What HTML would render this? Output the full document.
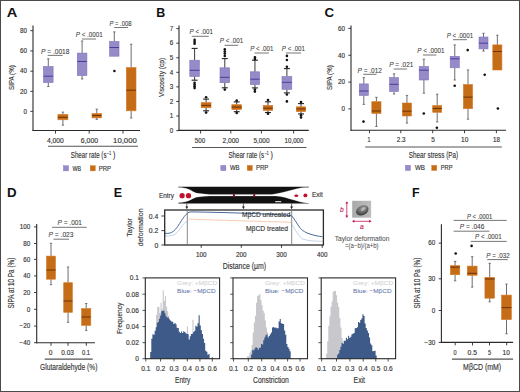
<!DOCTYPE html>
<html><head><meta charset="utf-8"><style>
html,body{margin:0;padding:0;background:#fff;}
body{width:520px;height:392px;overflow:hidden;}
svg{display:block;}
text{font-family:"Liberation Sans",sans-serif;}
</style></head><body>
<svg width="520" height="392" viewBox="0 0 520 392">
<rect x="0" y="0" width="520" height="392" fill="#fff"/>
<text x="6.8" y="16.8" font-size="12.2" fill="#111" textLength="10.6" lengthAdjust="spacingAndGlyphs" font-weight="bold">A</text>
<line x1="33" y1="25.5" x2="33" y2="130.9" stroke="#2a2a2a" stroke-width="1.1"/>
<line x1="32.5" y1="130.5" x2="140" y2="130.5" stroke="#2a2a2a" stroke-width="1.1"/>
<line x1="30.3" y1="30.7" x2="33" y2="30.7" stroke="#2a2a2a" stroke-width="0.9"/>
<text x="27" y="32.97" font-size="6.3" fill="#333333" stroke="#333333" stroke-width="0.14" text-anchor="end">80</text>
<line x1="30.3" y1="50.95" x2="33" y2="50.95" stroke="#2a2a2a" stroke-width="0.9"/>
<text x="27" y="53.22" font-size="6.3" fill="#333333" stroke="#333333" stroke-width="0.14" text-anchor="end">60</text>
<line x1="30.3" y1="71.2" x2="33" y2="71.2" stroke="#2a2a2a" stroke-width="0.9"/>
<text x="27" y="73.47" font-size="6.3" fill="#333333" stroke="#333333" stroke-width="0.14" text-anchor="end">40</text>
<line x1="30.3" y1="91.35" x2="33" y2="91.35" stroke="#2a2a2a" stroke-width="0.9"/>
<text x="27" y="93.62" font-size="6.3" fill="#333333" stroke="#333333" stroke-width="0.14" text-anchor="end">20</text>
<line x1="30.3" y1="111.35" x2="33" y2="111.35" stroke="#2a2a2a" stroke-width="0.9"/>
<text x="27" y="113.62" font-size="6.3" fill="#333333" stroke="#333333" stroke-width="0.14" text-anchor="end">0</text>
<text transform="translate(13.6 77.6) rotate(-90)" text-anchor="middle" font-size="7.8" fill="#333333" stroke="#333333" stroke-width="0.14" textLength="24.7" lengthAdjust="spacingAndGlyphs">SIPA (%)</text>
<line x1="55.5" y1="130.5" x2="55.5" y2="133.6" stroke="#2a2a2a" stroke-width="0.9"/>
<text x="46.9" y="143.2" font-size="6.6" fill="#333333" stroke="#333333" stroke-width="0.14" textLength="16.9" lengthAdjust="spacingAndGlyphs">4,000</text>
<line x1="89.2" y1="130.5" x2="89.2" y2="133.6" stroke="#2a2a2a" stroke-width="0.9"/>
<text x="80.8" y="143.2" font-size="6.6" fill="#333333" stroke="#333333" stroke-width="0.14" textLength="17.3" lengthAdjust="spacingAndGlyphs">6,000</text>
<line x1="123" y1="130.5" x2="123" y2="133.6" stroke="#2a2a2a" stroke-width="0.9"/>
<text x="113.1" y="143.2" font-size="6.6" fill="#333333" stroke="#333333" stroke-width="0.14" textLength="23.7" lengthAdjust="spacingAndGlyphs">10,000</text>
<line x1="48" y1="146.3" x2="138" y2="146.3" stroke="#555" stroke-width="1.1"/>
<text x="70.8" y="157.5" font-size="8.6" fill="#333333" stroke="#333333" stroke-width="0.14" textLength="35.7" lengthAdjust="spacingAndGlyphs">Shear rate (s</text>
<text x="107.1" y="154.5" font-size="5.6" fill="#333333" stroke="#333333" stroke-width="0.14" textLength="4" lengthAdjust="spacingAndGlyphs">−1</text>
<text x="113" y="157.5" font-size="8.6" fill="#333333" stroke="#333333" stroke-width="0.14" textLength="2.4" lengthAdjust="spacingAndGlyphs">)</text>
<rect x="63.4" y="165.7" width="5.1" height="5.2" fill="#968ac9" stroke="#8074b8" stroke-width="0.4"/>
<text x="72.5" y="170.5" font-size="6.5" fill="#333333" stroke="#333333" stroke-width="0.14" textLength="8.6" lengthAdjust="spacingAndGlyphs">WB</text>
<rect x="90.2" y="165.7" width="5.1" height="5.2" fill="#c56c16" stroke="#d47a28" stroke-width="0.4"/>
<text x="98.7" y="170.5" font-size="6.5" fill="#333333" stroke="#333333" stroke-width="0.14" textLength="12.3" lengthAdjust="spacingAndGlyphs">PRP</text>
<line x1="48.3" y1="58.8" x2="48.3" y2="66.5" stroke="#5c5c66" stroke-width="0.9"/>
<line x1="48.3" y1="82.5" x2="48.3" y2="86.5" stroke="#5c5c66" stroke-width="0.9"/>
<line x1="47.1" y1="58.8" x2="49.5" y2="58.8" stroke="#5c5c66" stroke-width="0.8"/>
<line x1="47.1" y1="86.5" x2="49.5" y2="86.5" stroke="#5c5c66" stroke-width="0.8"/>
<rect x="43.5" y="66.5" width="9.6" height="16" fill="#968ac9" stroke="#8074b8" stroke-width="0.6"/>
<line x1="43.5" y1="76.2" x2="53.1" y2="76.2" stroke="#4a3d9a" stroke-width="1"/>
<line x1="82.1" y1="41" x2="82.1" y2="53.1" stroke="#5c5c66" stroke-width="0.9"/>
<line x1="82.1" y1="75.6" x2="82.1" y2="79" stroke="#5c5c66" stroke-width="0.9"/>
<line x1="80.9" y1="41" x2="83.3" y2="41" stroke="#5c5c66" stroke-width="0.8"/>
<line x1="80.9" y1="79" x2="83.3" y2="79" stroke="#5c5c66" stroke-width="0.8"/>
<rect x="77.3" y="53.1" width="9.6" height="22.5" fill="#968ac9" stroke="#8074b8" stroke-width="0.6"/>
<line x1="77.3" y1="61.5" x2="86.9" y2="61.5" stroke="#4a3d9a" stroke-width="1"/>
<line x1="114.3" y1="31.9" x2="114.3" y2="41.5" stroke="#5c5c66" stroke-width="0.9"/>
<line x1="113.1" y1="31.9" x2="115.5" y2="31.9" stroke="#5c5c66" stroke-width="0.8"/>
<rect x="109.6" y="41.5" width="9.4" height="14.7" fill="#968ac9" stroke="#8074b8" stroke-width="0.6"/>
<line x1="109.6" y1="47.5" x2="119" y2="47.5" stroke="#4a3d9a" stroke-width="1"/>
<circle cx="114.4" cy="71" r="1.3" fill="#111"/>
<line x1="62.9" y1="112.1" x2="62.9" y2="114.4" stroke="#5c5c66" stroke-width="0.9"/>
<line x1="62.9" y1="119.8" x2="62.9" y2="125.2" stroke="#5c5c66" stroke-width="0.9"/>
<line x1="61.7" y1="112.1" x2="64.1" y2="112.1" stroke="#5c5c66" stroke-width="0.8"/>
<line x1="61.7" y1="125.2" x2="64.1" y2="125.2" stroke="#5c5c66" stroke-width="0.8"/>
<rect x="57.9" y="114.4" width="10" height="5.4" fill="#c56c16" stroke="#d47a28" stroke-width="0.6"/>
<line x1="57.9" y1="117.3" x2="67.9" y2="117.3" stroke="#6e3306" stroke-width="1"/>
<line x1="96.75" y1="109.2" x2="96.75" y2="113.5" stroke="#5c5c66" stroke-width="0.9"/>
<line x1="96.75" y1="117.9" x2="96.75" y2="119.4" stroke="#5c5c66" stroke-width="0.9"/>
<line x1="95.55" y1="109.2" x2="97.95" y2="109.2" stroke="#5c5c66" stroke-width="0.8"/>
<line x1="95.55" y1="119.4" x2="97.95" y2="119.4" stroke="#5c5c66" stroke-width="0.8"/>
<rect x="92" y="113.5" width="9.5" height="4.4" fill="#c56c16" stroke="#d47a28" stroke-width="0.6"/>
<line x1="92" y1="115.5" x2="101.5" y2="115.5" stroke="#6e3306" stroke-width="1"/>
<line x1="131.15" y1="44.2" x2="131.15" y2="67.6" stroke="#5c5c66" stroke-width="0.9"/>
<line x1="131.15" y1="110.8" x2="131.15" y2="118" stroke="#5c5c66" stroke-width="0.9"/>
<line x1="129.95" y1="44.2" x2="132.35" y2="44.2" stroke="#5c5c66" stroke-width="0.8"/>
<line x1="129.95" y1="118" x2="132.35" y2="118" stroke="#5c5c66" stroke-width="0.8"/>
<rect x="126.3" y="67.6" width="9.7" height="43.2" fill="#c56c16" stroke="#d47a28" stroke-width="0.6"/>
<line x1="126.3" y1="90.2" x2="136" y2="90.2" stroke="#6e3306" stroke-width="1"/>
<text x="41" y="53.6" font-size="7" fill="#3c3c3c" stroke="#3c3c3c" stroke-width="0.08" textLength="28.4" lengthAdjust="spacingAndGlyphs"><tspan font-style="italic">P</tspan> = .0018</text>
<line x1="47.7" y1="55.4" x2="62.7" y2="55.4" stroke="#666" stroke-width="0.9"/>
<text x="75.8" y="36.8" font-size="7" fill="#3c3c3c" stroke="#3c3c3c" stroke-width="0.08" textLength="26.9" lengthAdjust="spacingAndGlyphs"><tspan font-style="italic">P</tspan> &lt; .0001</text>
<line x1="82" y1="39" x2="96" y2="39" stroke="#666" stroke-width="0.9"/>
<text x="109.4" y="25.7" font-size="7" fill="#3c3c3c" stroke="#3c3c3c" stroke-width="0.08" textLength="22.1" lengthAdjust="spacingAndGlyphs"><tspan font-style="italic">P</tspan> = .008</text>
<line x1="114.2" y1="27.5" x2="128" y2="27.5" stroke="#666" stroke-width="0.9"/>
<text x="156.3" y="16.8" font-size="12.2" fill="#111" textLength="9" lengthAdjust="spacingAndGlyphs" font-weight="bold">B</text>
<line x1="179" y1="25.5" x2="179" y2="130.9" stroke="#2a2a2a" stroke-width="1.1"/>
<line x1="178.5" y1="130.4" x2="308.8" y2="130.4" stroke="#2a2a2a" stroke-width="1.1"/>
<line x1="176.3" y1="130.6" x2="179" y2="130.6" stroke="#2a2a2a" stroke-width="0.9"/>
<text x="173.2" y="132.87" font-size="6.3" fill="#333333" stroke="#333333" stroke-width="0.14" text-anchor="end">0</text>
<line x1="176.3" y1="116.03" x2="179" y2="116.03" stroke="#2a2a2a" stroke-width="0.9"/>
<text x="173.2" y="118.3" font-size="6.3" fill="#333333" stroke="#333333" stroke-width="0.14" text-anchor="end">1</text>
<line x1="176.3" y1="101.46" x2="179" y2="101.46" stroke="#2a2a2a" stroke-width="0.9"/>
<text x="173.2" y="103.73" font-size="6.3" fill="#333333" stroke="#333333" stroke-width="0.14" text-anchor="end">2</text>
<line x1="176.3" y1="86.89" x2="179" y2="86.89" stroke="#2a2a2a" stroke-width="0.9"/>
<text x="173.2" y="89.16" font-size="6.3" fill="#333333" stroke="#333333" stroke-width="0.14" text-anchor="end">3</text>
<line x1="176.3" y1="72.32" x2="179" y2="72.32" stroke="#2a2a2a" stroke-width="0.9"/>
<text x="173.2" y="74.59" font-size="6.3" fill="#333333" stroke="#333333" stroke-width="0.14" text-anchor="end">4</text>
<line x1="176.3" y1="57.75" x2="179" y2="57.75" stroke="#2a2a2a" stroke-width="0.9"/>
<text x="173.2" y="60.02" font-size="6.3" fill="#333333" stroke="#333333" stroke-width="0.14" text-anchor="end">5</text>
<line x1="176.3" y1="43.18" x2="179" y2="43.18" stroke="#2a2a2a" stroke-width="0.9"/>
<text x="173.2" y="45.45" font-size="6.3" fill="#333333" stroke="#333333" stroke-width="0.14" text-anchor="end">6</text>
<line x1="176.3" y1="28.61" x2="179" y2="28.61" stroke="#2a2a2a" stroke-width="0.9"/>
<text x="173.2" y="30.88" font-size="6.3" fill="#333333" stroke="#333333" stroke-width="0.14" text-anchor="end">7</text>
<text transform="translate(164 77.4) rotate(-90)" text-anchor="middle" font-size="7.8" fill="#333333" stroke="#333333" stroke-width="0.14" textLength="39.3" lengthAdjust="spacingAndGlyphs">Viscosity (cp)</text>
<line x1="200.6" y1="130.4" x2="200.6" y2="133.5" stroke="#2a2a2a" stroke-width="0.9"/>
<text x="194.8" y="142.6" font-size="6.6" fill="#333333" stroke="#333333" stroke-width="0.14" textLength="10.4" lengthAdjust="spacingAndGlyphs">500</text>
<line x1="230.8" y1="130.4" x2="230.8" y2="133.5" stroke="#2a2a2a" stroke-width="0.9"/>
<text x="222.5" y="142.6" font-size="6.6" fill="#333333" stroke="#333333" stroke-width="0.14" textLength="16.5" lengthAdjust="spacingAndGlyphs">2,000</text>
<line x1="261.4" y1="130.4" x2="261.4" y2="133.5" stroke="#2a2a2a" stroke-width="0.9"/>
<text x="253.4" y="142.6" font-size="6.6" fill="#333333" stroke="#333333" stroke-width="0.14" textLength="16.1" lengthAdjust="spacingAndGlyphs">5,000</text>
<line x1="293.6" y1="130.4" x2="293.6" y2="133.5" stroke="#2a2a2a" stroke-width="0.9"/>
<text x="284.6" y="142.6" font-size="6.6" fill="#333333" stroke="#333333" stroke-width="0.14" textLength="18.8" lengthAdjust="spacingAndGlyphs">10,000</text>
<line x1="192.1" y1="147.5" x2="306.5" y2="147.5" stroke="#555" stroke-width="1.1"/>
<text x="228.4" y="157.6" font-size="8.6" fill="#333333" stroke="#333333" stroke-width="0.14" textLength="35.7" lengthAdjust="spacingAndGlyphs">Shear rate (s</text>
<text x="264.7" y="154.6" font-size="5.6" fill="#333333" stroke="#333333" stroke-width="0.14" textLength="4" lengthAdjust="spacingAndGlyphs">−1</text>
<text x="270.6" y="157.6" font-size="8.6" fill="#333333" stroke="#333333" stroke-width="0.14" textLength="2.4" lengthAdjust="spacingAndGlyphs">)</text>
<rect x="220.8" y="165.4" width="5.1" height="5.2" fill="#968ac9" stroke="#8074b8" stroke-width="0.4"/>
<text x="229.9" y="170.2" font-size="6.5" fill="#333333" stroke="#333333" stroke-width="0.14" textLength="9.6" lengthAdjust="spacingAndGlyphs">WB</text>
<rect x="247.2" y="165.4" width="5.1" height="5.2" fill="#c56c16" stroke="#d47a28" stroke-width="0.4"/>
<text x="256" y="170.2" font-size="6.5" fill="#333333" stroke="#333333" stroke-width="0.14" textLength="12.4" lengthAdjust="spacingAndGlyphs">PRP</text>
<line x1="194.6" y1="48.4" x2="194.6" y2="60.2" stroke="#222" stroke-width="0.9"/>
<line x1="194.6" y1="76.5" x2="194.6" y2="80.2" stroke="#222" stroke-width="0.9"/>
<line x1="191.6" y1="48.4" x2="197.6" y2="48.4" stroke="#222" stroke-width="1.1"/>
<line x1="191.6" y1="80.2" x2="197.6" y2="80.2" stroke="#222" stroke-width="1.1"/>
<rect x="189.8" y="60.2" width="9.6" height="16.3" fill="#968ac9" stroke="#8074b8" stroke-width="0.6"/>
<line x1="189.8" y1="70.3" x2="199.4" y2="70.3" stroke="#4a3d9a" stroke-width="1"/>
<circle cx="194.6" cy="39.9" r="1.3" fill="#111"/>
<circle cx="194.6" cy="41.9" r="1.3" fill="#111"/>
<circle cx="194.6" cy="43.8" r="1.3" fill="#111"/>
<circle cx="194.6" cy="82.7" r="1.3" fill="#111"/>
<circle cx="194.6" cy="84.5" r="1.3" fill="#111"/>
<circle cx="194.6" cy="86.3" r="1.3" fill="#111"/>
<circle cx="194.6" cy="88.1" r="1.3" fill="#111"/>
<line x1="224.8" y1="58.6" x2="224.8" y2="67.8" stroke="#222" stroke-width="0.9"/>
<line x1="224.8" y1="82.7" x2="224.8" y2="87.8" stroke="#222" stroke-width="0.9"/>
<line x1="221.8" y1="58.6" x2="227.8" y2="58.6" stroke="#222" stroke-width="1.1"/>
<line x1="221.8" y1="87.8" x2="227.8" y2="87.8" stroke="#222" stroke-width="1.1"/>
<rect x="220" y="67.8" width="9.6" height="14.9" fill="#968ac9" stroke="#8074b8" stroke-width="0.6"/>
<line x1="220" y1="77.3" x2="229.6" y2="77.3" stroke="#4a3d9a" stroke-width="1"/>
<circle cx="224.8" cy="49.4" r="1.3" fill="#111"/>
<circle cx="224.8" cy="51.5" r="1.3" fill="#111"/>
<circle cx="224.8" cy="53.6" r="1.3" fill="#111"/>
<circle cx="224.8" cy="56" r="1.3" fill="#111"/>
<circle cx="224.8" cy="89.6" r="1.3" fill="#111"/>
<line x1="254.95" y1="60.2" x2="254.95" y2="71.8" stroke="#222" stroke-width="0.9"/>
<line x1="254.95" y1="84.6" x2="254.95" y2="87.9" stroke="#222" stroke-width="0.9"/>
<line x1="251.95" y1="60.2" x2="257.95" y2="60.2" stroke="#222" stroke-width="1.1"/>
<line x1="251.95" y1="87.9" x2="257.95" y2="87.9" stroke="#222" stroke-width="1.1"/>
<rect x="250.3" y="71.8" width="9.3" height="12.8" fill="#968ac9" stroke="#8074b8" stroke-width="0.6"/>
<line x1="250.3" y1="79.2" x2="259.6" y2="79.2" stroke="#4a3d9a" stroke-width="1"/>
<circle cx="254.9" cy="57.2" r="1.3" fill="#111"/>
<circle cx="254.9" cy="59" r="1.3" fill="#111"/>
<circle cx="254.9" cy="89.6" r="1.3" fill="#111"/>
<circle cx="254.9" cy="91.6" r="1.3" fill="#111"/>
<line x1="286.9" y1="68.6" x2="286.9" y2="76.5" stroke="#222" stroke-width="0.9"/>
<line x1="286.9" y1="89.3" x2="286.9" y2="92.9" stroke="#222" stroke-width="0.9"/>
<line x1="283.9" y1="68.6" x2="289.9" y2="68.6" stroke="#222" stroke-width="1.1"/>
<line x1="283.9" y1="92.9" x2="289.9" y2="92.9" stroke="#222" stroke-width="1.1"/>
<rect x="282" y="76.5" width="9.8" height="12.8" fill="#968ac9" stroke="#8074b8" stroke-width="0.6"/>
<line x1="282" y1="82.3" x2="291.8" y2="82.3" stroke="#4a3d9a" stroke-width="1"/>
<circle cx="286.9" cy="55.9" r="1.3" fill="#111"/>
<circle cx="286.9" cy="60" r="1.3" fill="#111"/>
<circle cx="286.9" cy="66.8" r="1.3" fill="#111"/>
<circle cx="286.9" cy="94.5" r="1.3" fill="#111"/>
<circle cx="286.9" cy="101.4" r="1.3" fill="#111"/>
<line x1="206.1" y1="99.1" x2="206.1" y2="102.6" stroke="#222" stroke-width="0.9"/>
<line x1="206.1" y1="107.8" x2="206.1" y2="110.8" stroke="#222" stroke-width="0.9"/>
<line x1="203.1" y1="99.1" x2="209.1" y2="99.1" stroke="#222" stroke-width="1.1"/>
<line x1="203.1" y1="110.8" x2="209.1" y2="110.8" stroke="#222" stroke-width="1.1"/>
<rect x="201.2" y="102.6" width="9.8" height="5.2" fill="#c56c16" stroke="#d47a28" stroke-width="0.6"/>
<line x1="201.2" y1="105.4" x2="211" y2="105.4" stroke="#6e3306" stroke-width="1"/>
<circle cx="206.1" cy="97.3" r="1.3" fill="#111"/>
<circle cx="206.1" cy="112.6" r="1.3" fill="#111"/>
<line x1="236.7" y1="101.9" x2="236.7" y2="104.7" stroke="#222" stroke-width="0.9"/>
<line x1="236.7" y1="109.6" x2="236.7" y2="111.7" stroke="#222" stroke-width="0.9"/>
<line x1="233.7" y1="101.9" x2="239.7" y2="101.9" stroke="#222" stroke-width="1.1"/>
<line x1="233.7" y1="111.7" x2="239.7" y2="111.7" stroke="#222" stroke-width="1.1"/>
<rect x="231.8" y="104.7" width="9.8" height="4.9" fill="#c56c16" stroke="#d47a28" stroke-width="0.6"/>
<line x1="231.8" y1="107.1" x2="241.6" y2="107.1" stroke="#6e3306" stroke-width="1"/>
<circle cx="236.7" cy="100.6" r="1.3" fill="#111"/>
<circle cx="236.7" cy="113" r="1.3" fill="#111"/>
<line x1="267.95" y1="101.8" x2="267.95" y2="105.4" stroke="#222" stroke-width="0.9"/>
<line x1="267.95" y1="110.4" x2="267.95" y2="112.5" stroke="#222" stroke-width="0.9"/>
<line x1="264.95" y1="101.8" x2="270.95" y2="101.8" stroke="#222" stroke-width="1.1"/>
<line x1="264.95" y1="112.5" x2="270.95" y2="112.5" stroke="#222" stroke-width="1.1"/>
<rect x="263.2" y="105.4" width="9.5" height="5" fill="#c56c16" stroke="#d47a28" stroke-width="0.6"/>
<line x1="263.2" y1="108.2" x2="272.7" y2="108.2" stroke="#6e3306" stroke-width="1"/>
<circle cx="268" cy="100" r="1.3" fill="#111"/>
<circle cx="268" cy="113.8" r="1.3" fill="#111"/>
<line x1="301" y1="103.6" x2="301" y2="106.8" stroke="#222" stroke-width="0.9"/>
<line x1="301" y1="111.6" x2="301" y2="113.9" stroke="#222" stroke-width="0.9"/>
<line x1="298" y1="103.6" x2="304" y2="103.6" stroke="#222" stroke-width="1.1"/>
<line x1="298" y1="113.9" x2="304" y2="113.9" stroke="#222" stroke-width="1.1"/>
<rect x="296.3" y="106.8" width="9.4" height="4.8" fill="#c56c16" stroke="#d47a28" stroke-width="0.6"/>
<line x1="296.3" y1="108.9" x2="305.7" y2="108.9" stroke="#6e3306" stroke-width="1"/>
<circle cx="301" cy="102" r="1.3" fill="#111"/>
<circle cx="301" cy="115.4" r="1.3" fill="#111"/>
<circle cx="301" cy="117.5" r="1.3" fill="#111"/>
<text x="189.6" y="34" font-size="7" fill="#3c3c3c" stroke="#3c3c3c" stroke-width="0.08" textLength="23.3" lengthAdjust="spacingAndGlyphs"><tspan font-style="italic">P</tspan> &lt; .001</text>
<line x1="191.8" y1="36.3" x2="208.8" y2="36.3" stroke="#666" stroke-width="0.9"/>
<text x="219.8" y="42.9" font-size="7" fill="#3c3c3c" stroke="#3c3c3c" stroke-width="0.08" textLength="23.3" lengthAdjust="spacingAndGlyphs"><tspan font-style="italic">P</tspan> &lt; .001</text>
<line x1="224.5" y1="45.3" x2="238.2" y2="45.3" stroke="#666" stroke-width="0.9"/>
<text x="250.2" y="50.7" font-size="7" fill="#3c3c3c" stroke="#3c3c3c" stroke-width="0.08" textLength="23.2" lengthAdjust="spacingAndGlyphs"><tspan font-style="italic">P</tspan> &lt; .001</text>
<line x1="254.6" y1="53" x2="268.9" y2="53" stroke="#666" stroke-width="0.9"/>
<text x="281.8" y="50.7" font-size="7" fill="#3c3c3c" stroke="#3c3c3c" stroke-width="0.08" textLength="23.2" lengthAdjust="spacingAndGlyphs"><tspan font-style="italic">P</tspan> &lt; .001</text>
<line x1="285.9" y1="53" x2="301" y2="53" stroke="#666" stroke-width="0.9"/>
<text x="324.6" y="16.8" font-size="12.2" fill="#111" textLength="9.6" lengthAdjust="spacingAndGlyphs" font-weight="bold">C</text>
<line x1="351" y1="25.4" x2="351" y2="130.7" stroke="#2a2a2a" stroke-width="1.1"/>
<line x1="350.5" y1="130.2" x2="506.1" y2="130.2" stroke="#2a2a2a" stroke-width="1.1"/>
<line x1="348.3" y1="28.4" x2="351" y2="28.4" stroke="#2a2a2a" stroke-width="0.9"/>
<text x="345" y="30.67" font-size="6.3" fill="#333333" stroke="#333333" stroke-width="0.14" text-anchor="end">60</text>
<line x1="348.3" y1="55.25" x2="351" y2="55.25" stroke="#2a2a2a" stroke-width="0.9"/>
<text x="345" y="57.52" font-size="6.3" fill="#333333" stroke="#333333" stroke-width="0.14" text-anchor="end">40</text>
<line x1="348.3" y1="82.1" x2="351" y2="82.1" stroke="#2a2a2a" stroke-width="0.9"/>
<text x="345" y="84.37" font-size="6.3" fill="#333333" stroke="#333333" stroke-width="0.14" text-anchor="end">20</text>
<line x1="348.3" y1="108.9" x2="351" y2="108.9" stroke="#2a2a2a" stroke-width="0.9"/>
<text x="345" y="111.17" font-size="6.3" fill="#333333" stroke="#333333" stroke-width="0.14" text-anchor="end">0</text>
<text transform="translate(331.8 77.6) rotate(-90)" text-anchor="middle" font-size="7.8" fill="#333333" stroke="#333333" stroke-width="0.14" textLength="24.7" lengthAdjust="spacingAndGlyphs">SIPA (%)</text>
<line x1="369.5" y1="130.2" x2="369.5" y2="133.2" stroke="#2a2a2a" stroke-width="0.9"/>
<text x="367.6" y="142.4" font-size="6.6" fill="#333333" stroke="#333333" stroke-width="0.14" textLength="3" lengthAdjust="spacingAndGlyphs">1</text>
<line x1="400.8" y1="130.2" x2="400.8" y2="133.2" stroke="#2a2a2a" stroke-width="0.9"/>
<text x="396.7" y="142.4" font-size="6.6" fill="#333333" stroke="#333333" stroke-width="0.14" textLength="8.7" lengthAdjust="spacingAndGlyphs">2.3</text>
<line x1="432.7" y1="130.2" x2="432.7" y2="133.2" stroke="#2a2a2a" stroke-width="0.9"/>
<text x="431.2" y="142.4" font-size="6.6" fill="#333333" stroke="#333333" stroke-width="0.14" textLength="3.6" lengthAdjust="spacingAndGlyphs">5</text>
<line x1="464.5" y1="130.2" x2="464.5" y2="133.2" stroke="#2a2a2a" stroke-width="0.9"/>
<text x="461.1" y="142.4" font-size="6.6" fill="#333333" stroke="#333333" stroke-width="0.14" textLength="7.3" lengthAdjust="spacingAndGlyphs">10</text>
<line x1="496.4" y1="130.2" x2="496.4" y2="133.2" stroke="#2a2a2a" stroke-width="0.9"/>
<text x="493.1" y="142.4" font-size="6.6" fill="#333333" stroke="#333333" stroke-width="0.14" textLength="7" lengthAdjust="spacingAndGlyphs">18</text>
<line x1="365.2" y1="147" x2="501.8" y2="147" stroke="#555" stroke-width="1.1"/>
<text x="408.8" y="157.7" font-size="8.6" fill="#333333" stroke="#333333" stroke-width="0.14" textLength="49.4" lengthAdjust="spacingAndGlyphs">Shear stress (Pa)</text>
<rect x="405.4" y="165.3" width="5.1" height="5.2" fill="#968ac9" stroke="#8074b8" stroke-width="0.4"/>
<text x="414.9" y="170.1" font-size="6.5" fill="#333333" stroke="#333333" stroke-width="0.14" textLength="10" lengthAdjust="spacingAndGlyphs">WB</text>
<rect x="431.7" y="165.3" width="5.1" height="5.2" fill="#c56c16" stroke="#d47a28" stroke-width="0.4"/>
<text x="440.7" y="170.1" font-size="6.5" fill="#333333" stroke="#333333" stroke-width="0.14" textLength="11.8" lengthAdjust="spacingAndGlyphs">PRP</text>
<line x1="363.8" y1="77.6" x2="363.8" y2="83.9" stroke="#5c5c66" stroke-width="0.9"/>
<line x1="363.8" y1="95.4" x2="363.8" y2="104.4" stroke="#5c5c66" stroke-width="0.9"/>
<line x1="362.6" y1="77.6" x2="365" y2="77.6" stroke="#5c5c66" stroke-width="0.8"/>
<line x1="362.6" y1="104.4" x2="365" y2="104.4" stroke="#5c5c66" stroke-width="0.8"/>
<rect x="359.3" y="83.9" width="9" height="11.5" fill="#968ac9" stroke="#8074b8" stroke-width="0.6"/>
<line x1="359.3" y1="91" x2="368.3" y2="91" stroke="#4a3d9a" stroke-width="1"/>
<line x1="376.4" y1="97.3" x2="376.4" y2="101.7" stroke="#5c5c66" stroke-width="0.9"/>
<line x1="376.4" y1="113.5" x2="376.4" y2="126.5" stroke="#5c5c66" stroke-width="0.9"/>
<line x1="375.2" y1="97.3" x2="377.6" y2="97.3" stroke="#5c5c66" stroke-width="0.8"/>
<line x1="375.2" y1="126.5" x2="377.6" y2="126.5" stroke="#5c5c66" stroke-width="0.8"/>
<rect x="371.8" y="101.7" width="9.2" height="11.8" fill="#c56c16" stroke="#d47a28" stroke-width="0.6"/>
<line x1="371.8" y1="111" x2="381" y2="111" stroke="#6e3306" stroke-width="1"/>
<circle cx="363.5" cy="121.6" r="1.3" fill="#111"/>
<line x1="394.05" y1="73.8" x2="394.05" y2="77.6" stroke="#5c5c66" stroke-width="0.9"/>
<line x1="394.05" y1="91.5" x2="394.05" y2="94" stroke="#5c5c66" stroke-width="0.9"/>
<line x1="392.85" y1="73.8" x2="395.25" y2="73.8" stroke="#5c5c66" stroke-width="0.8"/>
<line x1="392.85" y1="94" x2="395.25" y2="94" stroke="#5c5c66" stroke-width="0.8"/>
<rect x="389.6" y="77.6" width="8.9" height="13.9" fill="#968ac9" stroke="#8074b8" stroke-width="0.6"/>
<line x1="389.6" y1="84.3" x2="398.5" y2="84.3" stroke="#4a3d9a" stroke-width="1"/>
<line x1="406.95" y1="95.4" x2="406.95" y2="103" stroke="#5c5c66" stroke-width="0.9"/>
<line x1="406.95" y1="116" x2="406.95" y2="123.1" stroke="#5c5c66" stroke-width="0.9"/>
<line x1="405.75" y1="95.4" x2="408.15" y2="95.4" stroke="#5c5c66" stroke-width="0.8"/>
<line x1="405.75" y1="123.1" x2="408.15" y2="123.1" stroke="#5c5c66" stroke-width="0.8"/>
<rect x="402.4" y="103" width="9.1" height="13" fill="#c56c16" stroke="#d47a28" stroke-width="0.6"/>
<line x1="402.4" y1="111.2" x2="411.5" y2="111.2" stroke="#6e3306" stroke-width="1"/>
<line x1="423.9" y1="59.2" x2="423.9" y2="66.5" stroke="#5c5c66" stroke-width="0.9"/>
<line x1="423.9" y1="80" x2="423.9" y2="93.2" stroke="#5c5c66" stroke-width="0.9"/>
<line x1="422.7" y1="59.2" x2="425.1" y2="59.2" stroke="#5c5c66" stroke-width="0.8"/>
<line x1="422.7" y1="93.2" x2="425.1" y2="93.2" stroke="#5c5c66" stroke-width="0.8"/>
<rect x="419.2" y="66.5" width="9.4" height="13.5" fill="#968ac9" stroke="#8074b8" stroke-width="0.6"/>
<line x1="419.2" y1="70.2" x2="428.6" y2="70.2" stroke="#4a3d9a" stroke-width="1"/>
<circle cx="423.8" cy="113.5" r="1.3" fill="#111"/>
<line x1="437.2" y1="94.2" x2="437.2" y2="105.6" stroke="#5c5c66" stroke-width="0.9"/>
<line x1="437.2" y1="112.3" x2="437.2" y2="121.9" stroke="#5c5c66" stroke-width="0.9"/>
<line x1="436" y1="94.2" x2="438.4" y2="94.2" stroke="#5c5c66" stroke-width="0.8"/>
<line x1="436" y1="121.9" x2="438.4" y2="121.9" stroke="#5c5c66" stroke-width="0.8"/>
<rect x="432.7" y="105.6" width="9" height="6.7" fill="#c56c16" stroke="#d47a28" stroke-width="0.6"/>
<line x1="432.7" y1="108.5" x2="441.7" y2="108.5" stroke="#6e3306" stroke-width="1"/>
<circle cx="436.9" cy="127.7" r="1.3" fill="#111"/>
<line x1="454.75" y1="44.9" x2="454.75" y2="56.3" stroke="#5c5c66" stroke-width="0.9"/>
<line x1="454.75" y1="67.8" x2="454.75" y2="80" stroke="#5c5c66" stroke-width="0.9"/>
<line x1="453.55" y1="44.9" x2="455.95" y2="44.9" stroke="#5c5c66" stroke-width="0.8"/>
<line x1="453.55" y1="80" x2="455.95" y2="80" stroke="#5c5c66" stroke-width="0.8"/>
<rect x="450.2" y="56.3" width="9.1" height="11.5" fill="#968ac9" stroke="#8074b8" stroke-width="0.6"/>
<line x1="450.2" y1="58.8" x2="459.3" y2="58.8" stroke="#4a3d9a" stroke-width="1"/>
<circle cx="454.7" cy="85.8" r="1.3" fill="#111"/>
<line x1="468" y1="69.9" x2="468" y2="84.5" stroke="#5c5c66" stroke-width="0.9"/>
<line x1="468" y1="108.7" x2="468" y2="119.2" stroke="#5c5c66" stroke-width="0.9"/>
<line x1="466.8" y1="69.9" x2="469.2" y2="69.9" stroke="#5c5c66" stroke-width="0.8"/>
<line x1="466.8" y1="119.2" x2="469.2" y2="119.2" stroke="#5c5c66" stroke-width="0.8"/>
<rect x="463.4" y="84.5" width="9.2" height="24.2" fill="#c56c16" stroke="#d47a28" stroke-width="0.6"/>
<line x1="463.4" y1="97.1" x2="472.6" y2="97.1" stroke="#6e3306" stroke-width="1"/>
<circle cx="467.7" cy="50.1" r="1.3" fill="#111"/>
<line x1="483.5" y1="33.3" x2="483.5" y2="37" stroke="#5c5c66" stroke-width="0.9"/>
<line x1="483.5" y1="48.9" x2="483.5" y2="51.1" stroke="#5c5c66" stroke-width="0.9"/>
<line x1="482.3" y1="33.3" x2="484.7" y2="33.3" stroke="#5c5c66" stroke-width="0.8"/>
<line x1="482.3" y1="51.1" x2="484.7" y2="51.1" stroke="#5c5c66" stroke-width="0.8"/>
<rect x="479" y="37" width="9" height="11.9" fill="#968ac9" stroke="#8074b8" stroke-width="0.6"/>
<line x1="479" y1="43.2" x2="488" y2="43.2" stroke="#4a3d9a" stroke-width="1"/>
<circle cx="484.7" cy="74.8" r="1.3" fill="#111"/>
<line x1="497.35" y1="35.2" x2="497.35" y2="44.9" stroke="#5c5c66" stroke-width="0.9"/>
<line x1="496.15" y1="35.2" x2="498.55" y2="35.2" stroke="#5c5c66" stroke-width="0.8"/>
<rect x="492.8" y="44.9" width="9.1" height="25.1" fill="#c56c16" stroke="#d47a28" stroke-width="0.6"/>
<line x1="492.8" y1="51.5" x2="501.9" y2="51.5" stroke="#6e3306" stroke-width="1"/>
<circle cx="497.9" cy="108.5" r="1.3" fill="#111"/>
<text x="357.5" y="72.7" font-size="7" fill="#3c3c3c" stroke="#3c3c3c" stroke-width="0.08" textLength="24.5" lengthAdjust="spacingAndGlyphs"><tspan font-style="italic">P</tspan> = .012</text>
<line x1="363.2" y1="74.3" x2="376.5" y2="74.3" stroke="#666" stroke-width="0.9"/>
<text x="389.2" y="67.3" font-size="7" fill="#3c3c3c" stroke="#3c3c3c" stroke-width="0.08" textLength="24.1" lengthAdjust="spacingAndGlyphs"><tspan font-style="italic">P</tspan> = .021</text>
<line x1="393.8" y1="69" x2="407.1" y2="69" stroke="#666" stroke-width="0.9"/>
<text x="417.3" y="53" font-size="7" fill="#3c3c3c" stroke="#3c3c3c" stroke-width="0.08" textLength="27.1" lengthAdjust="spacingAndGlyphs"><tspan font-style="italic">P</tspan> &lt; .0001</text>
<line x1="423" y1="55" x2="436.4" y2="55" stroke="#666" stroke-width="0.9"/>
<text x="446.7" y="38.3" font-size="7" fill="#3c3c3c" stroke="#3c3c3c" stroke-width="0.08" textLength="26.4" lengthAdjust="spacingAndGlyphs"><tspan font-style="italic">P</tspan> &lt; .0001</text>
<line x1="453" y1="39.7" x2="467" y2="39.7" stroke="#666" stroke-width="0.9"/>
<text x="7" y="196.8" font-size="12.2" fill="#111" textLength="9.6" lengthAdjust="spacingAndGlyphs" font-weight="bold">D</text>
<line x1="36.7" y1="223.9" x2="36.7" y2="343.2" stroke="#2a2a2a" stroke-width="1.1"/>
<line x1="36.2" y1="342.7" x2="94.9" y2="342.7" stroke="#2a2a2a" stroke-width="1.1"/>
<line x1="34" y1="226.9" x2="36.7" y2="226.9" stroke="#2a2a2a" stroke-width="0.9"/>
<text x="30.3" y="229.17" font-size="6.3" fill="#333333" stroke="#333333" stroke-width="0.14" text-anchor="end">100</text>
<line x1="34" y1="243.5" x2="36.7" y2="243.5" stroke="#2a2a2a" stroke-width="0.9"/>
<text x="30.3" y="245.77" font-size="6.3" fill="#333333" stroke="#333333" stroke-width="0.14" text-anchor="end">80</text>
<line x1="34" y1="259.4" x2="36.7" y2="259.4" stroke="#2a2a2a" stroke-width="0.9"/>
<text x="30.3" y="261.67" font-size="6.3" fill="#333333" stroke="#333333" stroke-width="0.14" text-anchor="end">60</text>
<line x1="34" y1="275.9" x2="36.7" y2="275.9" stroke="#2a2a2a" stroke-width="0.9"/>
<text x="30.3" y="278.17" font-size="6.3" fill="#333333" stroke="#333333" stroke-width="0.14" text-anchor="end">40</text>
<line x1="34" y1="292.5" x2="36.7" y2="292.5" stroke="#2a2a2a" stroke-width="0.9"/>
<text x="30.3" y="294.77" font-size="6.3" fill="#333333" stroke="#333333" stroke-width="0.14" text-anchor="end">20</text>
<line x1="34" y1="309.3" x2="36.7" y2="309.3" stroke="#2a2a2a" stroke-width="0.9"/>
<text x="30.3" y="311.57" font-size="6.3" fill="#333333" stroke="#333333" stroke-width="0.14" text-anchor="end">0</text>
<line x1="34" y1="326.1" x2="36.7" y2="326.1" stroke="#2a2a2a" stroke-width="0.9"/>
<text x="30.3" y="328.37" font-size="6.3" fill="#333333" stroke="#333333" stroke-width="0.14" text-anchor="end">−20</text>
<line x1="34" y1="342.7" x2="36.7" y2="342.7" stroke="#2a2a2a" stroke-width="0.9"/>
<text x="30.3" y="344.97" font-size="6.3" fill="#333333" stroke="#333333" stroke-width="0.14" text-anchor="end">−40</text>
<text transform="translate(14.4 283.1) rotate(-90)" text-anchor="middle" font-size="8.5" fill="#333333" stroke="#333333" stroke-width="0.14" textLength="50.8" lengthAdjust="spacingAndGlyphs">SIPA at 10 Pa (%)</text>
<line x1="51" y1="342.7" x2="51" y2="345.8" stroke="#2a2a2a" stroke-width="0.9"/>
<text x="48.8" y="355.4" font-size="6.6" fill="#333333" stroke="#333333" stroke-width="0.14" textLength="3.7" lengthAdjust="spacingAndGlyphs">0</text>
<line x1="68" y1="342.7" x2="68" y2="345.8" stroke="#2a2a2a" stroke-width="0.9"/>
<text x="61.3" y="355.4" font-size="6.6" fill="#333333" stroke="#333333" stroke-width="0.14" textLength="12.5" lengthAdjust="spacingAndGlyphs">0.03</text>
<line x1="86.3" y1="342.7" x2="86.3" y2="345.8" stroke="#2a2a2a" stroke-width="0.9"/>
<text x="81.9" y="355.4" font-size="6.6" fill="#333333" stroke="#333333" stroke-width="0.14" textLength="8.1" lengthAdjust="spacingAndGlyphs">0.1</text>
<line x1="44.75" y1="359.1" x2="92.75" y2="359.1" stroke="#555" stroke-width="1.1"/>
<text x="40" y="370" font-size="8.6" fill="#333333" stroke="#333333" stroke-width="0.14" textLength="57.5" lengthAdjust="spacingAndGlyphs">Glutaraldehyde (%)</text>
<line x1="51" y1="243.3" x2="51" y2="256.1" stroke="#5c5c66" stroke-width="0.9"/>
<line x1="51" y1="279.2" x2="51" y2="284.7" stroke="#5c5c66" stroke-width="0.9"/>
<line x1="49.8" y1="243.3" x2="52.2" y2="243.3" stroke="#5c5c66" stroke-width="0.8"/>
<line x1="49.8" y1="284.7" x2="52.2" y2="284.7" stroke="#5c5c66" stroke-width="0.8"/>
<rect x="46.5" y="256.1" width="9" height="23.1" fill="#c56c16" stroke="#d47a28" stroke-width="0.6"/>
<line x1="46.5" y1="270" x2="55.5" y2="270" stroke="#6e3306" stroke-width="1"/>
<line x1="68.05" y1="267" x2="68.05" y2="282.7" stroke="#5c5c66" stroke-width="0.9"/>
<line x1="68.05" y1="312.3" x2="68.05" y2="322.3" stroke="#5c5c66" stroke-width="0.9"/>
<line x1="66.85" y1="267" x2="69.25" y2="267" stroke="#5c5c66" stroke-width="0.8"/>
<line x1="66.85" y1="322.3" x2="69.25" y2="322.3" stroke="#5c5c66" stroke-width="0.8"/>
<rect x="63.7" y="282.7" width="8.7" height="29.6" fill="#c56c16" stroke="#d47a28" stroke-width="0.6"/>
<line x1="63.7" y1="301" x2="72.4" y2="301" stroke="#6e3306" stroke-width="1"/>
<line x1="86.2" y1="303.5" x2="86.2" y2="308.6" stroke="#5c5c66" stroke-width="0.9"/>
<line x1="86.2" y1="325.4" x2="86.2" y2="330.4" stroke="#5c5c66" stroke-width="0.9"/>
<line x1="85" y1="303.5" x2="87.4" y2="303.5" stroke="#5c5c66" stroke-width="0.8"/>
<line x1="85" y1="330.4" x2="87.4" y2="330.4" stroke="#5c5c66" stroke-width="0.8"/>
<rect x="81.6" y="308.6" width="9.2" height="16.8" fill="#c56c16" stroke="#d47a28" stroke-width="0.6"/>
<line x1="81.6" y1="317" x2="90.8" y2="317" stroke="#6e3306" stroke-width="1"/>
<text x="57.6" y="225.4" font-size="7" fill="#3c3c3c" stroke="#3c3c3c" stroke-width="0.08" textLength="24.4" lengthAdjust="spacingAndGlyphs"><tspan font-style="italic">P</tspan> = .001</text>
<line x1="52" y1="227.3" x2="86.7" y2="227.3" stroke="#666" stroke-width="0.9"/>
<text x="48.6" y="237.2" font-size="7" fill="#3c3c3c" stroke="#3c3c3c" stroke-width="0.08" textLength="24.9" lengthAdjust="spacingAndGlyphs"><tspan font-style="italic">P</tspan> = .023</text>
<line x1="53.5" y1="239.2" x2="69" y2="239.2" stroke="#666" stroke-width="0.9"/>
<text x="113.7" y="196.8" font-size="12.2" fill="#111" textLength="8.3" lengthAdjust="spacingAndGlyphs" font-weight="bold">E</text>
<path d="M178.3 186.8 L308.8 186.8 L308.8 203.5 L178.3 203.5 Z" fill="#111"/>
<path d="M177 187.4 L181 187.5 L185.6 188.3 L188 189 L190.4 190 L193.3 191.7 L196.2 193.1 L200 193.6 L204.8 194.1 L209.7 194.4 L272 194.4 L277.5 193.5 L282.3 192.5 L287.2 191.2 L292 190 L296.8 188.8 L301.6 187.8 L305 187.5 L310 187.4 L310 203.3 L304.5 202.75 L299.7 201.8 L294.8 200.3 L290 198.9 L285.2 197.5 L280.4 196.5 L276 196.1 L272 196 L209.7 196 L204.8 196.3 L200 196.8 L196.2 197.3 L193.3 198.4 L190.4 199.9 L188 201 L185.6 201.8 L181 202.6 L177 202.8 Z" fill="#fff" stroke="#fff" stroke-width="0.2" stroke-linejoin="round"/>
<ellipse cx="182.1" cy="195.7" rx="2.6" ry="2.6" fill="#c0102a"/>
<ellipse cx="188.5" cy="195.7" rx="2.6" ry="2.6" fill="#c0102a"/>
<ellipse cx="296.3" cy="195.7" rx="2" ry="1.3" fill="#c0102a"/>
<ellipse cx="305.4" cy="195.4" rx="2" ry="1.9" fill="#c0102a"/>
<ellipse cx="233.9" cy="195.3" rx="1.0" ry="1.9" fill="#7a1424"/>
<ellipse cx="254.2" cy="195.3" rx="1.0" ry="1.9" fill="#7a1424"/>
<rect x="275.2" y="201.2" width="6" height="1" fill="#fff" stroke="none" stroke-width="0.6"/>
<text x="159" y="197.9" font-size="7.2" fill="#333333" stroke="#333333" stroke-width="0.14" textLength="14.9" lengthAdjust="spacingAndGlyphs">Entry</text>
<text x="311.9" y="197.4" font-size="7.2" fill="#333333" stroke="#333333" stroke-width="0.14" textLength="10.8" lengthAdjust="spacingAndGlyphs">Exit</text>
<line x1="186.8" y1="203.6" x2="186.8" y2="207.2" stroke="#222" stroke-width="0.7"/>
<path d="M186.8 209.2 L185.4 206.4 L188.2 206.4 Z" fill="#222"/>
<line x1="243.4" y1="203.6" x2="243.4" y2="207.2" stroke="#222" stroke-width="0.7"/>
<path d="M243.4 209.2 L242 206.4 L244.8 206.4 Z" fill="#222"/>
<line x1="291.6" y1="203.6" x2="291.6" y2="207.2" stroke="#222" stroke-width="0.7"/>
<path d="M291.6 209.2 L290.2 206.4 L293 206.4 Z" fill="#222"/>
<path d="M165 236.0 C170 236.2 173 235.4 175 234.2 C178 232 180 228.5 182 226 C184 223.5 185.5 222 187.3 221.2" fill="none" stroke="#bcd0e4" stroke-width="0.9"/>
<path d="M188.5 219.1 C220 220.2 260 221.4 291.2 222.3" fill="none" stroke="#f2c4a8" stroke-width="0.9"/>
<path d="M292 224.5 C295 229.5 298 235 302 238.8 C307 240.8 315 241.2 322.5 241.3" fill="none" stroke="#bcd0e4" stroke-width="0.9"/>
<path d="M165 233.3 C168 233.7 171 233.3 173.5 231.2 C176.5 228.8 179 224.5 181.5 220.5 C183.5 217.5 185.5 214.8 187.4 213.2 C188.5 212.3 189.5 211.9 191 211.9 C225 212.4 262 213.5 291.4 215.6 C294 218 297 224 300.5 228.5 C305 233.5 314 235.6 322.5 236.8" fill="none" stroke="#4a6b9b" stroke-width="1"/>
<rect x="164.7" y="210.0" width="158.7" height="35.0" fill="none" stroke="#2a2a2a" stroke-width="1.3"/>
<line x1="187.3" y1="210" x2="187.3" y2="245" stroke="#6a6a6a" stroke-width="0.8"/>
<line x1="291.7" y1="210" x2="291.7" y2="245" stroke="#6a6a6a" stroke-width="0.8"/>
<line x1="161.4" y1="216" x2="164.6" y2="216" stroke="#2a2a2a" stroke-width="0.9"/>
<text x="158.2" y="218.5" font-size="6.8" fill="#333333" stroke="#333333" stroke-width="0.14" text-anchor="end">0.4</text>
<line x1="161.4" y1="230.6" x2="164.6" y2="230.6" stroke="#2a2a2a" stroke-width="0.9"/>
<text x="158.2" y="233.1" font-size="6.8" fill="#333333" stroke="#333333" stroke-width="0.14" text-anchor="end">0.2</text>
<line x1="161.4" y1="245" x2="164.6" y2="245" stroke="#2a2a2a" stroke-width="0.9"/>
<text x="158.2" y="247.5" font-size="6.8" fill="#333333" stroke="#333333" stroke-width="0.14" text-anchor="end">0</text>
<line x1="201.2" y1="245" x2="201.2" y2="247.8" stroke="#2a2a2a" stroke-width="0.9"/>
<text x="201.2" y="257.2" font-size="6.8" fill="#333333" stroke="#333333" stroke-width="0.14" text-anchor="middle" textLength="10.5" lengthAdjust="spacingAndGlyphs">100</text>
<line x1="241.3" y1="245" x2="241.3" y2="247.8" stroke="#2a2a2a" stroke-width="0.9"/>
<text x="241.3" y="257.2" font-size="6.8" fill="#333333" stroke="#333333" stroke-width="0.14" text-anchor="middle" textLength="10.5" lengthAdjust="spacingAndGlyphs">200</text>
<line x1="281.5" y1="245" x2="281.5" y2="247.8" stroke="#2a2a2a" stroke-width="0.9"/>
<text x="281.5" y="257.2" font-size="6.8" fill="#333333" stroke="#333333" stroke-width="0.14" text-anchor="middle" textLength="10.5" lengthAdjust="spacingAndGlyphs">300</text>
<line x1="322.2" y1="245" x2="322.2" y2="247.8" stroke="#2a2a2a" stroke-width="0.9"/>
<text x="322.2" y="257.2" font-size="6.8" fill="#333333" stroke="#333333" stroke-width="0.14" text-anchor="middle" textLength="10.5" lengthAdjust="spacingAndGlyphs">400</text>
<text x="222.8" y="269.2" font-size="8.2" fill="#333333" stroke="#333333" stroke-width="0.14" textLength="43.3" lengthAdjust="spacingAndGlyphs">Distance (µm)</text>
<text transform="translate(132.3 227.4) rotate(-90)" text-anchor="middle" font-size="7.8" fill="#333333" stroke="#333333" stroke-width="0.14" textLength="18.5" lengthAdjust="spacingAndGlyphs">Taylor</text>
<text transform="translate(142.8 227.3) rotate(-90)" text-anchor="middle" font-size="7.8" fill="#333333" stroke="#333333" stroke-width="0.14" textLength="37.9" lengthAdjust="spacingAndGlyphs">deformation</text>
<text x="241.9" y="216.8" font-size="6.9" fill="#333333" stroke="#333333" stroke-width="0.14" textLength="48.5" lengthAdjust="spacingAndGlyphs">MβCD untreated</text>
<text x="245.9" y="231.2" font-size="6.9" fill="#333333" stroke="#333333" stroke-width="0.14" textLength="42.2" lengthAdjust="spacingAndGlyphs">MβCD treated</text>
<defs><linearGradient id="sq" x1="0" y1="0" x2="1" y2="0"><stop offset="0" stop-color="#a9a9a9"/><stop offset="1" stop-color="#bcbcbc"/></linearGradient><radialGradient id="cell" cx="60%" cy="35%" r="65%"><stop offset="0" stop-color="#a0a0a0"/><stop offset="0.45" stop-color="#777"/><stop offset="1" stop-color="#3a3a3a"/></radialGradient></defs>
<rect x="352.2" y="200.8" width="18.9" height="16.9" fill="url(#sq)"/>
<ellipse cx="362.3" cy="210.4" rx="6.6" ry="4.7" fill="url(#cell)" transform="rotate(-28 362.3 210.4)"/>
<ellipse cx="363.4" cy="209.0" rx="2.6" ry="1.2" fill="#c4c4c4" opacity="0.75" transform="rotate(-35 363.4 209)"/>
<line x1="346.8" y1="202.6" x2="346.8" y2="216.6" stroke="#c2185b" stroke-width="0.8"/>
<path d="M346.8 201.2 L345.3 203.6 L348.3 203.6 Z M346.8 218.0 L345.3 215.6 L348.3 215.6 Z" fill="#c2185b"/>
<line x1="353.4" y1="221.3" x2="370.2" y2="221.3" stroke="#c2185b" stroke-width="0.8"/>
<path d="M352.0 221.3 L354.4 219.8 L354.4 222.8 Z M371.6 221.3 L369.2 219.8 L369.2 222.8 Z" fill="#c2185b"/>
<text x="340" y="212.2" font-size="6.6" fill="#c2185b" stroke="#c2185b" stroke-width="0.14" font-style="italic">b</text>
<text x="360.1" y="228.5" font-size="6.6" fill="#c2185b" stroke="#c2185b" stroke-width="0.14" font-style="italic">a</text>
<text x="334.7" y="240.8" font-size="6.6" fill="#505050" stroke="#505050" stroke-width="0.05" textLength="54.8" lengthAdjust="spacingAndGlyphs">Taylor deformation</text>
<text x="345.1" y="248.4" font-size="6.6" fill="#505050" stroke="#505050" stroke-width="0.05" textLength="33.5" lengthAdjust="spacingAndGlyphs">=(a−b)/(a+b)</text>
<path d="M155 358.7L155 355.24L156.1 355.24L156.1 314.71L157.2 314.71L157.2 307.03L158.3 307.03L158.3 306.64L159.4 306.64L159.4 312.99L160.5 312.99L160.5 302.78L161.6 302.78L161.6 309.36L162.7 309.36L162.7 290.29L163.8 290.29L163.8 301.03L164.9 301.03L164.9 296.07L166 296.07L166 306.86L167.1 306.86L167.1 311.09L168.2 311.09L168.2 315.63L169.3 315.63L169.3 331.12L170.4 331.12L170.4 358.7L171.5 358.7L171.5 358.7L172.6 358.7L172.6 358.7L173.7 358.7L173.7 358.7L174.8 358.7L174.8 358.7L175.9 358.7L175.9 358.7L177 358.7L177 358.7L178.1 358.7L178.1 358.7L179.2 358.7L179.2 358.7L180.3 358.7L180.3 358.7L181.4 358.7L181.4 358.7L182.5 358.7L182.5 358.7L183.6 358.7L183.6 358.7L184.7 358.7L184.7 358.7L185.8 358.7L185.8 350.54L186.9 350.54L186.9 326.53L188 326.53L188 358.7L189.1 358.7L189.1 358.7L190.2 358.7L190.2 358.7L191.3 358.7L191.3 358.7L192.4 358.7L192.4 319.75L193.5 319.75L193.5 358.7L194.6 358.7L194.6 358.7L195 358.7L195 358.7Z" fill="#c8c8cc"/>
<path d="M148 358.7L148 358.7L149.1 358.7L149.1 358.25L150.2 358.25L150.2 351.88L151.3 351.88L151.3 338.64L152.4 338.64L152.4 334.26L153.5 334.26L153.5 334.82L154.6 334.82L154.6 330.63L155.7 330.63L155.7 327.19L156.8 327.19L156.8 322.64L157.9 322.64L157.9 321.76L159 321.76L159 318.75L160.1 318.75L160.1 315.59L161.2 315.59L161.2 311.18L162.3 311.18L162.3 310.7L163.4 310.7L163.4 310.65L164.5 310.65L164.5 313.25L165.6 313.25L165.6 316.24L166.7 316.24L166.7 317.45L167.8 317.45L167.8 317.46L168.9 317.46L168.9 319.2L170 319.2L170 320.45L171.1 320.45L171.1 321.39L172.2 321.39L172.2 321.87L173.3 321.87L173.3 324.04L174.4 324.04L174.4 323.09L175.5 323.09L175.5 324.22L176.6 324.22L176.6 327.87L177.7 327.87L177.7 328.12L178.8 328.12L178.8 331.65L179.9 331.65L179.9 333.01L181 333.01L181 331.56L182.1 331.56L182.1 332.98L183.2 332.98L183.2 331.2L184.3 331.2L184.3 331.92L185.4 331.92L185.4 333.28L186.5 333.28L186.5 333.89L187.6 333.89L187.6 334.16L188.7 334.16L188.7 339.39L189.8 339.39L189.8 336.28L190.9 336.28L190.9 333.96L192 333.96L192 333.83L193.1 333.83L193.1 331.92L194.2 331.92L194.2 330.66L195.3 330.66L195.3 325.74L196.4 325.74L196.4 326.78L197.5 326.78L197.5 323.22L198.6 323.22L198.6 315.32L199.7 315.32L199.7 325.42L200.8 325.42L200.8 330.34L201.9 330.34L201.9 333.88L203 333.88L203 338.67L204.1 338.67L204.1 343.08L205.2 343.08L205.2 350.65L206.3 350.65L206.3 351.78L207.4 351.78L207.4 354.78L208.5 354.78L208.5 353.93L209.6 353.93L209.6 358.46L210.7 358.46L210.7 358.7L211.8 358.7L211.8 357.32L212.9 357.32L212.9 358.7L214 358.7L214 358.7Z" fill="#3e5a88"/>
<path d="M245 358.7L245 358.7L246.1 358.7L246.1 358.7L247.2 358.7L247.2 356.06L248.3 356.06L248.3 356.34L249.4 356.34L249.4 352.68L250.5 352.68L250.5 350.54L251.6 350.54L251.6 344.75L252.7 344.75L252.7 332.5L253.8 332.5L253.8 322.49L254.9 322.49L254.9 315.71L256 315.71L256 302.84L257.1 302.84L257.1 296.07L258.2 296.07L258.2 295.23L259.3 295.23L259.3 294.02L260.4 294.02L260.4 299.98L261.5 299.98L261.5 305L262.6 305L262.6 310.46L263.7 310.46L263.7 312.92L264.8 312.92L264.8 320.61L265.9 320.61L265.9 327.51L267 327.51L267 332.31L268.1 332.31L268.1 338.11L269.2 338.11L269.2 345.48L270.3 345.48L270.3 358.7L271 358.7L271 358.7Z" fill="#c8c8cc"/>
<path d="M250 358.7L250 358.7L251.1 358.7L251.1 354.62L252.2 354.62L252.2 349.68L253.3 349.68L253.3 350.6L254.4 350.6L254.4 348.53L255.5 348.53L255.5 347.12L256.6 347.12L256.6 347.9L257.7 347.9L257.7 349.69L258.8 349.69L258.8 347.97L259.9 347.97L259.9 347.39L261 347.39L261 343.97L262.1 343.97L262.1 344.39L263.2 344.39L263.2 340.22L264.3 340.22L264.3 337.53L265.4 337.53L265.4 335.33L266.5 335.33L266.5 334.17L267.6 334.17L267.6 337.59L268.7 337.59L268.7 336.11L269.8 336.11L269.8 334.3L270.9 334.3L270.9 332.59L272 332.59L272 327.51L273.1 327.51L273.1 327.02L274.2 327.02L274.2 327.73L275.3 327.73L275.3 327.5L276.4 327.5L276.4 328.19L277.5 328.19L277.5 328.33L278.6 328.33L278.6 321.4L279.7 321.4L279.7 319.02L280.8 319.02L280.8 323.14L281.9 323.14L281.9 323.63L283 323.63L283 324L284.1 324L284.1 330.42L285.2 330.42L285.2 334.73L286.3 334.73L286.3 343.92L287.4 343.92L287.4 347.1L288.5 347.1L288.5 348.64L289.6 348.64L289.6 351.14L290.7 351.14L290.7 358.46L291.8 358.46L291.8 358.7L292.9 358.7L292.9 358.7L293 358.7L293 358.7Z" fill="#3e5a88"/>
<path d="M325 358.7L325 358.7L326.1 358.7L326.1 353.83L327.2 353.83L327.2 341.17L328.3 341.17L328.3 325.67L329.4 325.67L329.4 316.15L330.5 316.15L330.5 306.72L331.6 306.72L331.6 301.51L332.7 301.51L332.7 292.08L333.8 292.08L333.8 290.81L334.9 290.81L334.9 290.92L336 290.92L336 295.23L337.1 295.23L337.1 302.67L338.2 302.67L338.2 307.07L339.3 307.07L339.3 317.91L340.4 317.91L340.4 327.61L341.5 327.61L341.5 337.91L342.6 337.91L342.6 345.85L343.7 345.85L343.7 352.13L344.8 352.13L344.8 358.7L345.9 358.7L345.9 358.7L346 358.7L346 358.7Z" fill="#c8c8cc"/>
<path d="M336 358.7L336 358.7L337.1 358.7L337.1 354.68L338.2 354.68L338.2 353.39L339.3 353.39L339.3 350.04L340.4 350.04L340.4 346.75L341.5 346.75L341.5 342.64L342.6 342.64L342.6 343.71L343.7 343.71L343.7 340.82L344.8 340.82L344.8 340.87L345.9 340.87L345.9 337.82L347 337.82L347 339.28L348.1 339.28L348.1 335.73L349.2 335.73L349.2 337.98L350.3 337.98L350.3 336.87L351.4 336.87L351.4 334.27L352.5 334.27L352.5 333.86L353.6 333.86L353.6 333.05L354.7 333.05L354.7 328.16L355.8 328.16L355.8 327.98L356.9 327.98L356.9 327.15L358 327.15L358 321.89L359.1 321.89L359.1 322.74L360.2 322.74L360.2 319.94L361.3 319.94L361.3 318.58L362.4 318.58L362.4 314.21L363.5 314.21L363.5 316.05L364.6 316.05L364.6 323.51L365.7 323.51L365.7 328.04L366.8 328.04L366.8 330.52L367.9 330.52L367.9 333L369 333L369 337.54L370.1 337.54L370.1 343.61L371.2 343.61L371.2 345.31L372.3 345.31L372.3 351.23L373.4 351.23L373.4 351L374.5 351L374.5 350.64L375.6 350.64L375.6 355.57L376.7 355.57L376.7 358.7L377.8 358.7L377.8 358.7L378 358.7L378 358.7Z" fill="#3e5a88"/>
<rect x="145.3" y="277.9" width="74.3" height="80.8" fill="none" stroke="#2a2a2a" stroke-width="1.1"/>
<line x1="142.5" y1="277.9" x2="145.3" y2="277.9" stroke="#2a2a2a" stroke-width="0.8"/>
<line x1="142.5" y1="294.2" x2="145.3" y2="294.2" stroke="#2a2a2a" stroke-width="0.8"/>
<line x1="142.5" y1="310.4" x2="145.3" y2="310.4" stroke="#2a2a2a" stroke-width="0.8"/>
<line x1="142.5" y1="326.6" x2="145.3" y2="326.6" stroke="#2a2a2a" stroke-width="0.8"/>
<line x1="142.5" y1="342.7" x2="145.3" y2="342.7" stroke="#2a2a2a" stroke-width="0.8"/>
<line x1="142.5" y1="358.7" x2="145.3" y2="358.7" stroke="#2a2a2a" stroke-width="0.8"/>
<line x1="145.8" y1="358.7" x2="145.8" y2="361.5" stroke="#2a2a2a" stroke-width="0.8"/>
<text x="145.8" y="370.6" font-size="6.6" fill="#333333" stroke="#333333" stroke-width="0.14" text-anchor="middle" textLength="9.2" lengthAdjust="spacingAndGlyphs">0.1</text>
<line x1="160.6" y1="358.7" x2="160.6" y2="361.5" stroke="#2a2a2a" stroke-width="0.8"/>
<text x="160.6" y="370.6" font-size="6.6" fill="#333333" stroke="#333333" stroke-width="0.14" text-anchor="middle" textLength="9.2" lengthAdjust="spacingAndGlyphs">0.2</text>
<line x1="174" y1="358.7" x2="174" y2="361.5" stroke="#2a2a2a" stroke-width="0.8"/>
<text x="174" y="370.6" font-size="6.6" fill="#333333" stroke="#333333" stroke-width="0.14" text-anchor="middle" textLength="9.2" lengthAdjust="spacingAndGlyphs">0.3</text>
<line x1="187.3" y1="358.7" x2="187.3" y2="361.5" stroke="#2a2a2a" stroke-width="0.8"/>
<text x="187.3" y="370.6" font-size="6.6" fill="#333333" stroke="#333333" stroke-width="0.14" text-anchor="middle" textLength="9.2" lengthAdjust="spacingAndGlyphs">0.4</text>
<line x1="199.9" y1="358.7" x2="199.9" y2="361.5" stroke="#2a2a2a" stroke-width="0.8"/>
<text x="199.9" y="370.6" font-size="6.6" fill="#333333" stroke="#333333" stroke-width="0.14" text-anchor="middle" textLength="9.2" lengthAdjust="spacingAndGlyphs">0.5</text>
<line x1="212.3" y1="358.7" x2="212.3" y2="361.5" stroke="#2a2a2a" stroke-width="0.8"/>
<text x="212.3" y="370.6" font-size="6.6" fill="#333333" stroke="#333333" stroke-width="0.14" text-anchor="middle" textLength="9.2" lengthAdjust="spacingAndGlyphs">0.6</text>
<text x="217.1" y="284.8" font-size="6.2" fill="#d0d0d0" stroke="#d0d0d0" stroke-width="0.05" text-anchor="end" textLength="40" lengthAdjust="spacingAndGlyphs">Grey: +MβCD</text>
<text x="215.6" y="292.9" font-size="6.2" fill="#6072a4" stroke="#6072a4" stroke-width="0.05" text-anchor="end" textLength="38.5" lengthAdjust="spacingAndGlyphs">Blue: −MβCD</text>
<rect x="233" y="277.9" width="74.5" height="80.8" fill="none" stroke="#2a2a2a" stroke-width="1.1"/>
<line x1="230.2" y1="277.9" x2="233" y2="277.9" stroke="#2a2a2a" stroke-width="0.8"/>
<line x1="230.2" y1="294.2" x2="233" y2="294.2" stroke="#2a2a2a" stroke-width="0.8"/>
<line x1="230.2" y1="310.4" x2="233" y2="310.4" stroke="#2a2a2a" stroke-width="0.8"/>
<line x1="230.2" y1="326.6" x2="233" y2="326.6" stroke="#2a2a2a" stroke-width="0.8"/>
<line x1="230.2" y1="342.7" x2="233" y2="342.7" stroke="#2a2a2a" stroke-width="0.8"/>
<line x1="230.2" y1="358.7" x2="233" y2="358.7" stroke="#2a2a2a" stroke-width="0.8"/>
<line x1="233.5" y1="358.7" x2="233.5" y2="361.5" stroke="#2a2a2a" stroke-width="0.8"/>
<text x="233.5" y="370.6" font-size="6.6" fill="#333333" stroke="#333333" stroke-width="0.14" text-anchor="middle" textLength="9.2" lengthAdjust="spacingAndGlyphs">0.1</text>
<line x1="248.3" y1="358.7" x2="248.3" y2="361.5" stroke="#2a2a2a" stroke-width="0.8"/>
<text x="248.3" y="370.6" font-size="6.6" fill="#333333" stroke="#333333" stroke-width="0.14" text-anchor="middle" textLength="9.2" lengthAdjust="spacingAndGlyphs">0.2</text>
<line x1="261.7" y1="358.7" x2="261.7" y2="361.5" stroke="#2a2a2a" stroke-width="0.8"/>
<text x="261.7" y="370.6" font-size="6.6" fill="#333333" stroke="#333333" stroke-width="0.14" text-anchor="middle" textLength="9.2" lengthAdjust="spacingAndGlyphs">0.3</text>
<line x1="275" y1="358.7" x2="275" y2="361.5" stroke="#2a2a2a" stroke-width="0.8"/>
<text x="275" y="370.6" font-size="6.6" fill="#333333" stroke="#333333" stroke-width="0.14" text-anchor="middle" textLength="9.2" lengthAdjust="spacingAndGlyphs">0.4</text>
<line x1="287.6" y1="358.7" x2="287.6" y2="361.5" stroke="#2a2a2a" stroke-width="0.8"/>
<text x="287.6" y="370.6" font-size="6.6" fill="#333333" stroke="#333333" stroke-width="0.14" text-anchor="middle" textLength="9.2" lengthAdjust="spacingAndGlyphs">0.5</text>
<line x1="300" y1="358.7" x2="300" y2="361.5" stroke="#2a2a2a" stroke-width="0.8"/>
<text x="300" y="370.6" font-size="6.6" fill="#333333" stroke="#333333" stroke-width="0.14" text-anchor="middle" textLength="9.2" lengthAdjust="spacingAndGlyphs">0.6</text>
<text x="305" y="284.8" font-size="6.2" fill="#d0d0d0" stroke="#d0d0d0" stroke-width="0.05" text-anchor="end" textLength="40" lengthAdjust="spacingAndGlyphs">Grey: +MβCD</text>
<text x="303.5" y="292.9" font-size="6.2" fill="#6072a4" stroke="#6072a4" stroke-width="0.05" text-anchor="end" textLength="38.5" lengthAdjust="spacingAndGlyphs">Blue: −MβCD</text>
<rect x="321.2" y="277.9" width="74.4" height="80.8" fill="none" stroke="#2a2a2a" stroke-width="1.1"/>
<line x1="318.4" y1="277.9" x2="321.2" y2="277.9" stroke="#2a2a2a" stroke-width="0.8"/>
<line x1="318.4" y1="294.2" x2="321.2" y2="294.2" stroke="#2a2a2a" stroke-width="0.8"/>
<line x1="318.4" y1="310.4" x2="321.2" y2="310.4" stroke="#2a2a2a" stroke-width="0.8"/>
<line x1="318.4" y1="326.6" x2="321.2" y2="326.6" stroke="#2a2a2a" stroke-width="0.8"/>
<line x1="318.4" y1="342.7" x2="321.2" y2="342.7" stroke="#2a2a2a" stroke-width="0.8"/>
<line x1="318.4" y1="358.7" x2="321.2" y2="358.7" stroke="#2a2a2a" stroke-width="0.8"/>
<line x1="321.7" y1="358.7" x2="321.7" y2="361.5" stroke="#2a2a2a" stroke-width="0.8"/>
<text x="321.7" y="370.6" font-size="6.6" fill="#333333" stroke="#333333" stroke-width="0.14" text-anchor="middle" textLength="9.2" lengthAdjust="spacingAndGlyphs">0.1</text>
<line x1="336.5" y1="358.7" x2="336.5" y2="361.5" stroke="#2a2a2a" stroke-width="0.8"/>
<text x="336.5" y="370.6" font-size="6.6" fill="#333333" stroke="#333333" stroke-width="0.14" text-anchor="middle" textLength="9.2" lengthAdjust="spacingAndGlyphs">0.2</text>
<line x1="349.9" y1="358.7" x2="349.9" y2="361.5" stroke="#2a2a2a" stroke-width="0.8"/>
<text x="349.9" y="370.6" font-size="6.6" fill="#333333" stroke="#333333" stroke-width="0.14" text-anchor="middle" textLength="9.2" lengthAdjust="spacingAndGlyphs">0.3</text>
<line x1="363.2" y1="358.7" x2="363.2" y2="361.5" stroke="#2a2a2a" stroke-width="0.8"/>
<text x="363.2" y="370.6" font-size="6.6" fill="#333333" stroke="#333333" stroke-width="0.14" text-anchor="middle" textLength="9.2" lengthAdjust="spacingAndGlyphs">0.4</text>
<line x1="375.8" y1="358.7" x2="375.8" y2="361.5" stroke="#2a2a2a" stroke-width="0.8"/>
<text x="375.8" y="370.6" font-size="6.6" fill="#333333" stroke="#333333" stroke-width="0.14" text-anchor="middle" textLength="9.2" lengthAdjust="spacingAndGlyphs">0.5</text>
<line x1="388.2" y1="358.7" x2="388.2" y2="361.5" stroke="#2a2a2a" stroke-width="0.8"/>
<text x="388.2" y="370.6" font-size="6.6" fill="#333333" stroke="#333333" stroke-width="0.14" text-anchor="middle" textLength="9.2" lengthAdjust="spacingAndGlyphs">0.6</text>
<text x="393.1" y="284.8" font-size="6.2" fill="#d0d0d0" stroke="#d0d0d0" stroke-width="0.05" text-anchor="end" textLength="40" lengthAdjust="spacingAndGlyphs">Grey: +MβCD</text>
<text x="391.6" y="292.9" font-size="6.2" fill="#6072a4" stroke="#6072a4" stroke-width="0.05" text-anchor="end" textLength="38.5" lengthAdjust="spacingAndGlyphs">Blue: −MβCD</text>
<text x="175" y="382.8" font-size="8.6" fill="#333333" stroke="#333333" stroke-width="0.14" textLength="15.4" lengthAdjust="spacingAndGlyphs">Entry</text>
<text x="253.1" y="382.8" font-size="8.6" fill="#333333" stroke="#333333" stroke-width="0.14" textLength="35.7" lengthAdjust="spacingAndGlyphs">Constriction</text>
<text x="353.6" y="382.8" font-size="8.6" fill="#333333" stroke="#333333" stroke-width="0.14" textLength="11.4" lengthAdjust="spacingAndGlyphs">Exit</text>
<text x="138.9" y="280.3" font-size="6.6" fill="#333333" stroke="#333333" stroke-width="0.14" text-anchor="end">0.1</text>
<text x="138.9" y="296.6" font-size="6.6" fill="#333333" stroke="#333333" stroke-width="0.14" text-anchor="end">0.08</text>
<text x="138.9" y="312.8" font-size="6.6" fill="#333333" stroke="#333333" stroke-width="0.14" text-anchor="end">0.06</text>
<text x="138.9" y="329" font-size="6.6" fill="#333333" stroke="#333333" stroke-width="0.14" text-anchor="end">0.04</text>
<text x="138.9" y="345.1" font-size="6.6" fill="#333333" stroke="#333333" stroke-width="0.14" text-anchor="end">0.02</text>
<text x="138.9" y="361.1" font-size="6.6" fill="#333333" stroke="#333333" stroke-width="0.14" text-anchor="end">0</text>
<text transform="translate(121.9 318.4) rotate(-90)" text-anchor="middle" font-size="7.8" fill="#333333" stroke="#333333" stroke-width="0.14" textLength="31.3" lengthAdjust="spacingAndGlyphs">Frequency</text>
<text x="412" y="196.8" font-size="12.2" fill="#111" textLength="7.6" lengthAdjust="spacingAndGlyphs" font-weight="bold">F</text>
<line x1="441.4" y1="224.2" x2="441.4" y2="342.9" stroke="#2a2a2a" stroke-width="1.1"/>
<line x1="440.9" y1="342.4" x2="513.1" y2="342.4" stroke="#2a2a2a" stroke-width="1.1"/>
<line x1="438.7" y1="243.1" x2="441.4" y2="243.1" stroke="#2a2a2a" stroke-width="0.9"/>
<text x="435.3" y="245.37" font-size="6.3" fill="#333333" stroke="#333333" stroke-width="0.14" text-anchor="end">60</text>
<line x1="438.7" y1="278.8" x2="441.4" y2="278.8" stroke="#2a2a2a" stroke-width="0.9"/>
<text x="435.3" y="281.07" font-size="6.3" fill="#333333" stroke="#333333" stroke-width="0.14" text-anchor="end">30</text>
<line x1="438.7" y1="310.5" x2="441.4" y2="310.5" stroke="#2a2a2a" stroke-width="0.9"/>
<text x="435.3" y="312.77" font-size="6.3" fill="#333333" stroke="#333333" stroke-width="0.14" text-anchor="end">0</text>
<line x1="438.7" y1="342.4" x2="441.4" y2="342.4" stroke="#2a2a2a" stroke-width="0.9"/>
<text x="435.3" y="344.67" font-size="6.3" fill="#333333" stroke="#333333" stroke-width="0.14" text-anchor="end">−30</text>
<text transform="translate(419.6 283) rotate(-90)" text-anchor="middle" font-size="8.5" fill="#333333" stroke="#333333" stroke-width="0.14" textLength="50.8" lengthAdjust="spacingAndGlyphs">SIPA at 10 Pa (%)</text>
<line x1="455.2" y1="342.4" x2="455.2" y2="345.4" stroke="#2a2a2a" stroke-width="0.9"/>
<text x="453.5" y="354.8" font-size="6.6" fill="#333333" stroke="#333333" stroke-width="0.14" textLength="3.1" lengthAdjust="spacingAndGlyphs">0</text>
<line x1="472.5" y1="342.4" x2="472.5" y2="345.4" stroke="#2a2a2a" stroke-width="0.9"/>
<text x="467.5" y="354.8" font-size="6.6" fill="#333333" stroke="#333333" stroke-width="0.14" textLength="9.4" lengthAdjust="spacingAndGlyphs">0.5</text>
<line x1="489.5" y1="342.4" x2="489.5" y2="345.4" stroke="#2a2a2a" stroke-width="0.9"/>
<text x="488.1" y="354.8" font-size="6.6" fill="#333333" stroke="#333333" stroke-width="0.14" textLength="3.1" lengthAdjust="spacingAndGlyphs">5</text>
<line x1="506.7" y1="342.4" x2="506.7" y2="345.4" stroke="#2a2a2a" stroke-width="0.9"/>
<text x="502.5" y="354.8" font-size="6.6" fill="#333333" stroke="#333333" stroke-width="0.14" textLength="7.3" lengthAdjust="spacingAndGlyphs">10</text>
<line x1="451.9" y1="359.1" x2="513.1" y2="359.1" stroke="#555" stroke-width="1.1"/>
<text x="463.1" y="369.5" font-size="8.6" fill="#333333" stroke="#333333" stroke-width="0.14" textLength="38.1" lengthAdjust="spacingAndGlyphs">MβCD (mM)</text>
<line x1="455.1" y1="261.4" x2="455.1" y2="265.7" stroke="#5c5c66" stroke-width="0.9"/>
<line x1="455.1" y1="274.7" x2="455.1" y2="280.8" stroke="#5c5c66" stroke-width="0.9"/>
<line x1="453.9" y1="261.4" x2="456.3" y2="261.4" stroke="#5c5c66" stroke-width="0.8"/>
<line x1="453.9" y1="280.8" x2="456.3" y2="280.8" stroke="#5c5c66" stroke-width="0.8"/>
<rect x="450.4" y="265.7" width="9.4" height="9" fill="#c56c16" stroke="#d47a28" stroke-width="0.6"/>
<line x1="450.4" y1="267.1" x2="459.8" y2="267.1" stroke="#6e3306" stroke-width="1"/>
<circle cx="455.7" cy="253.5" r="1.3" fill="#111"/>
<line x1="472.2" y1="256.7" x2="472.2" y2="266.1" stroke="#5c5c66" stroke-width="0.9"/>
<line x1="472.2" y1="275.3" x2="472.2" y2="287.1" stroke="#5c5c66" stroke-width="0.9"/>
<line x1="471" y1="256.7" x2="473.4" y2="256.7" stroke="#5c5c66" stroke-width="0.8"/>
<line x1="471" y1="287.1" x2="473.4" y2="287.1" stroke="#5c5c66" stroke-width="0.8"/>
<rect x="467.3" y="266.1" width="9.8" height="9.2" fill="#c56c16" stroke="#d47a28" stroke-width="0.6"/>
<line x1="467.3" y1="273.3" x2="477.1" y2="273.3" stroke="#6e3306" stroke-width="1"/>
<circle cx="471.6" cy="245.9" r="1.3" fill="#111"/>
<line x1="489.7" y1="263.3" x2="489.7" y2="277.3" stroke="#5c5c66" stroke-width="0.9"/>
<line x1="489.7" y1="298.2" x2="489.7" y2="301.8" stroke="#5c5c66" stroke-width="0.9"/>
<line x1="488.5" y1="263.3" x2="490.9" y2="263.3" stroke="#5c5c66" stroke-width="0.8"/>
<line x1="488.5" y1="301.8" x2="490.9" y2="301.8" stroke="#5c5c66" stroke-width="0.8"/>
<rect x="484.9" y="277.3" width="9.6" height="20.9" fill="#c56c16" stroke="#d47a28" stroke-width="0.6"/>
<line x1="484.9" y1="279" x2="494.5" y2="279" stroke="#6e3306" stroke-width="1"/>
<line x1="506.5" y1="284.1" x2="506.5" y2="295.1" stroke="#5c5c66" stroke-width="0.9"/>
<line x1="506.5" y1="319.6" x2="506.5" y2="333.8" stroke="#5c5c66" stroke-width="0.9"/>
<line x1="505.3" y1="284.1" x2="507.7" y2="284.1" stroke="#5c5c66" stroke-width="0.8"/>
<line x1="505.3" y1="333.8" x2="507.7" y2="333.8" stroke="#5c5c66" stroke-width="0.8"/>
<rect x="501.6" y="295.1" width="9.8" height="24.5" fill="#c56c16" stroke="#d47a28" stroke-width="0.6"/>
<line x1="501.6" y1="307.6" x2="511.4" y2="307.6" stroke="#6e3306" stroke-width="1"/>
<text x="467" y="218.5" font-size="7" fill="#3c3c3c" stroke="#3c3c3c" stroke-width="0.08" textLength="25.4" lengthAdjust="spacingAndGlyphs"><tspan font-style="italic">P</tspan> &lt; .0001</text>
<line x1="453.7" y1="220.4" x2="506.7" y2="220.4" stroke="#666" stroke-width="0.9"/>
<text x="459.8" y="229.1" font-size="7" fill="#3c3c3c" stroke="#3c3c3c" stroke-width="0.08" textLength="24.5" lengthAdjust="spacingAndGlyphs"><tspan font-style="italic">P</tspan> = .046</text>
<line x1="453.7" y1="231.2" x2="489.4" y2="231.2" stroke="#666" stroke-width="0.9"/>
<text x="475.1" y="239.3" font-size="7" fill="#3c3c3c" stroke="#3c3c3c" stroke-width="0.08" textLength="26.5" lengthAdjust="spacingAndGlyphs"><tspan font-style="italic">P</tspan> &lt; .0001</text>
<line x1="470.6" y1="241.4" x2="506.7" y2="241.4" stroke="#666" stroke-width="0.9"/>
<text x="486.3" y="257.7" font-size="7" fill="#3c3c3c" stroke="#3c3c3c" stroke-width="0.08" textLength="23.5" lengthAdjust="spacingAndGlyphs"><tspan font-style="italic">P</tspan> = .032</text>
<line x1="487.3" y1="259.6" x2="507.8" y2="259.6" stroke="#666" stroke-width="0.9"/>
<rect x="0.5" y="0.5" width="519" height="391" fill="none" stroke="#4a4a4a" stroke-width="1"/>
</svg>
</body></html>
